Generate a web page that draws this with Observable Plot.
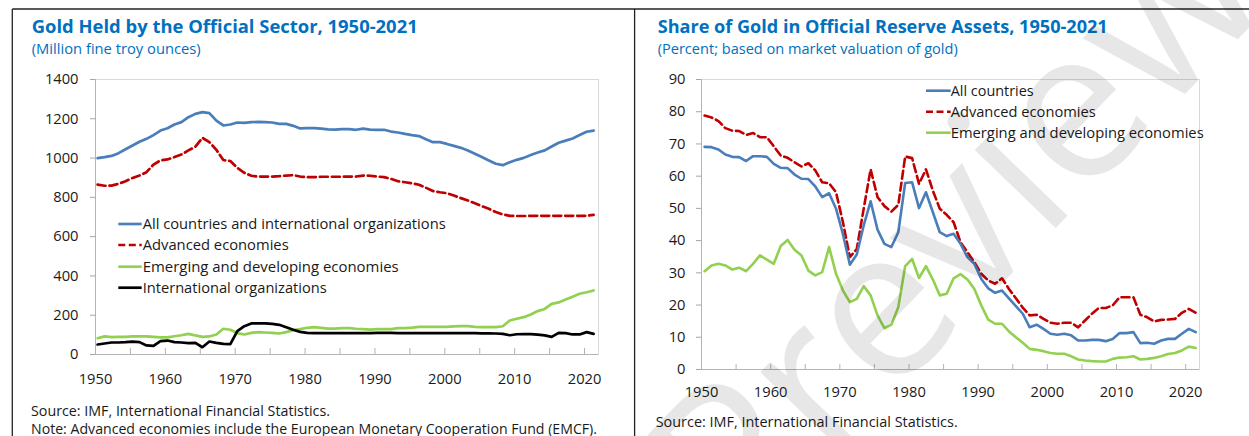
<!DOCTYPE html>
<html><head><meta charset="utf-8">
<script src="https://cdn.jsdelivr.net/npm/d3@7"></script>
<script src="https://cdn.jsdelivr.net/npm/@observablehq/plot@0.6"></script>
<style>
html,body{margin:0;padding:0;background:#fff;}
body{width:1249px;height:436px;position:relative;overflow:hidden;font-family:"Open Sans",sans-serif;}
.panel{position:absolute;}
#overlay{position:absolute;left:0;top:0;pointer-events:none;}
</style></head><body>
<div id="left" class="panel" style="left:20px;top:59px;width:600px;height:345px"></div>
<div id="right" class="panel" style="left:640px;top:59px;width:580px;height:350px"></div>
<svg id="overlay" width="1249" height="436" xmlns="http://www.w3.org/2000/svg"></svg>
<script>
// ---------- data ----------
const years = d3.range(1950, 2022);
const decadeTicks = [1950, 1960, 1970, 1980, 1990, 2000, 2010, 2020];
const fiveYearTicks = [1950, 1955, 1960, 1965, 1970, 1975, 1980, 1985, 1990, 1995, 2000, 2005, 2010, 2015, 2020];
const leftYTicks = [0, 200, 400, 600, 800, 1000, 1200, 1400];
const rightYTicks = [0, 10, 20, 30, 40, 50, 60, 70, 80, 90];

const leftSeries = ["All countries and international organizations", "Advanced economies", "Emerging and developing economies", "International organizations"];
const rightSeries = ["All countries", "Advanced economies", "Emerging and developing economies"];

// Million fine troy ounces
const heldAll = [1000,1005,1011,1025,1045,1064,1083,1098,1117,1140,
  1152,1171,1183,1208,1225,1234,1229,1191,1166,1171,
  1181,1179,1183,1184,1183,1181,1174,1174,1164,1151,
  1152,1152,1150,1146,1145,1147,1147,1144,1150,1145,
  1144,1144,1135,1130,1123,1117,1112,1096,1081,1081,
  1072,1062,1052,1039,1022,1005,988,971,964,979,
  991,1001,1016,1028,1039,1059,1078,1089,1100,1117,
  1134,1140];
const heldAdv = [865,859,860,869,882,899,911,928,967,988,
  993,1005,1018,1039,1058,1103,1081,1042,990,985,
  950,925,910,906,906,906,908,911,913,906,
  903,903,905,905,905,905,906,906,911,910,
  906,903,894,882,877,872,864,849,832,826,
  821,809,796,784,770,755,742,725,713,706,
  705,705,706,706,706,706,706,706,706,706,
  706,711];
const heldEm = [83,92,88,90,90,92,92,92,90,87,
  87,93,98,105,97,90,92,102,131,126,
  109,102,110,114,112,110,107,114,124,129,
  136,139,136,132,132,134,134,131,129,127,
  129,129,129,134,134,137,141,141,141,141,
  141,143,144,144,141,139,139,139,144,173,
  182,190,204,221,232,258,265,280,294,309,
  317,326];
const heldIO = [51,56,61,61,63,66,63,46,44,68,
  71,63,61,58,59,37,66,59,54,53,
  119,144,158,158,158,156,151,139,126,115,
  110,109,109,109,109,109,109,109,109,109,
  110,110,110,109,109,109,109,109,109,109,
  109,109,109,109,109,108,108,107,105,98,
  103,104,104,101,97,90,110,109,102,102,
  114,105];

// Percent of official reserve assets
const shareAll = [69.1,69.0,68.3,66.7,66.0,65.9,64.7,66.2,66.2,66.0,
  63.8,62.6,62.5,60.5,59.2,59.1,56.8,53.5,54.7,49.9,
  42.0,32.5,35.7,44.7,52.2,43.4,39.0,38.0,42.6,57.9,
  58.1,50.1,55.0,48.8,42.6,41.4,42.1,39.0,34.9,32.8,
  28.1,25.2,23.8,24.5,22.1,19.7,17.3,13.1,13.9,12.6,
  11.1,10.8,11.1,10.6,9.0,9.0,9.2,9.2,8.8,9.5,
  11.3,11.3,11.6,8.2,8.3,8.0,9.0,9.5,9.5,11.1,
  12.6,11.6];
const shareAdv = [78.8,78.2,77.1,74.9,74.1,74.0,72.8,73.4,72.1,72.1,
  69.3,66.4,65.7,64.3,63.0,64.0,61.8,58.1,57.8,55.0,
  45.7,34.9,37.4,49.9,62.1,53.5,50.7,49.0,51.1,66.1,
  65.6,57.6,62.1,55.5,49.9,48.0,45.7,39.5,36.4,33.3,
  29.7,27.6,26.6,28.3,25.0,22.1,19.2,16.8,17.0,15.7,
  14.5,14.2,14.5,14.5,13.1,15.2,17.3,19.1,19.1,19.9,
  22.4,22.4,22.4,17.0,16.2,14.9,15.4,15.5,15.7,17.6,
  18.8,17.6];
const shareEm = [30.5,32.3,32.8,32.3,31.0,31.6,30.5,32.8,35.4,34.1,
  32.8,38.3,40.2,37.2,35.4,30.7,29.2,30.2,38.0,29.7,
  24.5,20.9,21.9,25.9,23.0,16.8,12.8,13.9,19.3,32.1,
  34.3,28.4,32.1,27.9,23.0,23.5,28.3,29.6,27.9,25.0,
  19.9,15.5,14.2,14.2,11.8,10.0,8.3,6.4,6.1,5.7,
  5.1,4.9,4.9,4.1,3.1,2.8,2.6,2.5,2.5,3.3,
  3.7,3.8,4.1,3.1,3.3,3.6,4.1,4.8,5.1,5.9,
  7.1,6.7];

// ---------- helpers ----------
const BLUE = "#4a7ebb", RED = "#c00000", GREEN = "#92d050", BLACK = "#000000";
const DASH = "8,4";
function rows(vals, series) { return years.map((year, i) => ({year, value: vals[i], series})); }
const fontStyle = {fontFamily: '"Open Sans", sans-serif', fontSize: "14.7px", color: "#1a1a1a", background: "transparent", overflow: "visible"};
const plain = d => String(d);

function styleAxes(svg) {
  svg.querySelectorAll('[aria-label="y-axis tick"]').forEach(g => { g.setAttribute("stroke", "#a6a6a6"); g.querySelectorAll("path").forEach(p => p.setAttribute("stroke", "#a6a6a6")); });
}

// ---------- left chart ----------
const leftOffset = 0.3;
const leftPlot = Plot.plot({
  width: 600, height: 345,
  marginLeft: 75, marginTop: 20, marginRight: 22, marginBottom: 50,
  style: fontStyle,
  x: {domain: [1950, 2022], ticks: decadeTicks, tickFormat: plain, tickSize: 0, tickPadding: 18.6, label: null},
  y: {domain: [0, 1400], ticks: leftYTicks, tickFormat: plain, tickSize: 5, tickPadding: 12, label: null},
  marks: [
    Plot.frame({stroke: "#d9d9d9"}),
    Plot.ruleX(fiveYearTicks, {stroke: "#b3b3b3", insetTop: 275 - 6}),
    Plot.ruleY([0], {stroke: "#b3b3b3"}),
    Plot.ruleX([1950], {stroke: "#b3b3b3"}),
    Plot.line(rows(heldAll, leftSeries[0]), {x: d => d.year + leftOffset, y: "value", stroke: BLUE, strokeWidth: 2.7}),
    Plot.line(rows(heldAdv, leftSeries[1]), {x: d => d.year + leftOffset, y: "value", stroke: RED, strokeWidth: 2.7, strokeDasharray: DASH}),
    Plot.line(rows(heldEm, leftSeries[2]), {x: d => d.year + leftOffset, y: "value", stroke: GREEN, strokeWidth: 2.7}),
    Plot.line(rows(heldIO, leftSeries[3]), {x: d => d.year + leftOffset, y: "value", stroke: BLACK, strokeWidth: 2.7})
  ]
});
styleAxes(leftPlot);
document.getElementById("left").appendChild(leftPlot);

// ---------- right chart ----------
const rightOffset = 0.45;
const rightPlot = Plot.plot({
  width: 580, height: 350,
  marginLeft: 61, marginTop: 20, marginRight: 21, marginBottom: 40,
  style: fontStyle,
  x: {domain: [1950, 2022], ticks: decadeTicks, tickFormat: plain, tickSize: 0, tickPadding: 16.6, label: null},
  y: {domain: [0, 90], ticks: rightYTicks, tickFormat: plain, tickSize: 5, tickPadding: 11, label: null},
  marks: [
    Plot.frame({stroke: "#d9d9d9"}),
    Plot.ruleX(fiveYearTicks, {stroke: "#b3b3b3", insetTop: 290 - 5}),
    Plot.ruleY([0], {stroke: "#b3b3b3"}),
    Plot.ruleX([1950], {stroke: "#b3b3b3"}),
    Plot.line(rows(shareEm, rightSeries[2]), {x: d => d.year + rightOffset, y: "value", stroke: GREEN, strokeWidth: 2.6}),
    Plot.line(rows(shareAdv, rightSeries[1]), {x: d => d.year + rightOffset, y: "value", stroke: RED, strokeWidth: 2.6, strokeDasharray: DASH}),
    Plot.line(rows(shareAll, rightSeries[0]), {x: d => d.year + rightOffset, y: "value", stroke: BLUE, strokeWidth: 2.6})
  ]
});
styleAxes(rightPlot);
document.getElementById("right").appendChild(rightPlot);

// ---------- overlay: frame, titles, legends, notes ----------
const NS = "http://www.w3.org/2000/svg";
const ov = document.getElementById("overlay");
function el(tag, attrs, parent) { const e = document.createElementNS(NS, tag); for (const k in attrs) e.setAttribute(k, attrs[k]); (parent || ov).appendChild(e); return e; }
function txt(str, x, y, o) {
  const t = el("text", {x, y, "font-family": '"Open Sans", sans-serif', "font-size": o.size || 14.7, "font-weight": o.weight || 400, fill: o.fill || "#1a1a1a"}, o.parent);
  t.textContent = str;
  if (o.width) { t.setAttribute("textLength", o.width); t.setAttribute("lengthAdjust", "spacingAndGlyphs"); }
  return t;
}

// panel borders
el("line", {x1: 12.3, y1: 9, x2: 1249, y2: 9, stroke: "#222", "stroke-width": 1.3});
el("line", {x1: 12.3, y1: 9, x2: 12.3, y2: 436, stroke: "#222", "stroke-width": 1.3});
el("line", {x1: 634.6, y1: 9, x2: 634.6, y2: 436, stroke: "#222", "stroke-width": 1.3});

const TITLE = "#0070c0";
txt("Gold Held by the Official Sector, 1950-2021", 31.7, 33.3, {size: 18.5, weight: 700, fill: TITLE, width: 386});
txt("(Million fine troy ounces)", 31.7, 54.3, {size: 14.7, fill: TITLE, width: 169});
txt("Share of Gold in Official Reserve Assets, 1950-2021", 657.7, 33.3, {size: 18.5, weight: 700, fill: TITLE, width: 450});
txt("(Percent; based on market valuation of gold)", 657.7, 54.3, {size: 14.7, fill: TITLE, width: 300});

txt("Source: IMF, International Financial Statistics.", 31, 416, {size: 14.7, width: 299});
txt("Note: Advanced economies include the European Monetary Cooperation Fund (EMCF).", 31, 434, {size: 14.7, width: 566});
txt("Source: IMF, International Financial Statistics.", 655.7, 427, {size: 14.7, width: 302});

// legends
const leftLegend = [
  {label: leftSeries[0], color: BLUE, dash: null, y: 224, w: 303},
  {label: leftSeries[1], color: RED, dash: "7,3.5", y: 245, w: 146},
  {label: leftSeries[2], color: GREEN, dash: null, y: 266.7, w: 256},
  {label: leftSeries[3], color: BLACK, dash: null, y: 287.7, w: 184}
];
leftLegend.forEach(d => {
  const a = {x1: 118.3, x2: 141.7, y1: d.y, y2: d.y, stroke: d.color, "stroke-width": 2.7};
  if (d.dash) a["stroke-dasharray"] = d.dash;
  el("line", a);
  txt(d.label, 142.7, d.y + 5, {size: 14.7, width: d.w});
});
const rightLegend = [
  {label: rightSeries[0], color: BLUE, dash: null, y: 90.7, w: 83},
  {label: rightSeries[1], color: RED, dash: "7,3.5", y: 111.7, w: 145},
  {label: rightSeries[2], color: GREEN, dash: null, y: 132.7, w: 253}
];
rightLegend.forEach(d => {
  const a = {x1: 926, x2: 950.7, y1: d.y, y2: d.y, stroke: d.color, "stroke-width": 2.6};
  if (d.dash) a["stroke-dasharray"] = d.dash;
  el("line", a);
  txt(d.label, 950.7, d.y + 5, {size: 14.7, width: d.w});
});

// watermark
const wm = txt("Preview", 0, 0, {size: 210, fill: "#000"});
wm.setAttribute("transform", "translate(741,554) rotate(-46)");
wm.setAttribute("opacity", "0.09");
</script></body></html>
